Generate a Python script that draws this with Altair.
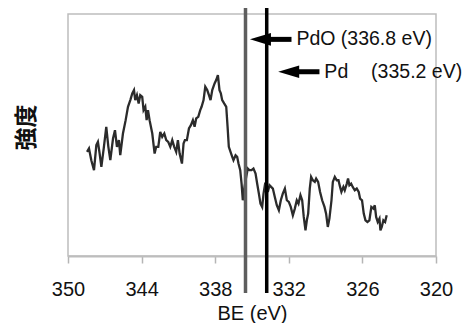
import altair as alt
import pandas as pd

# XPS Pd 3d spectrum (binding energy in eV, intensity in arbitrary units)
be = [
    348.45, 348.29, 348.10, 347.88, 347.69, 347.56, 347.42, 347.28, 347.09, 346.88,
    346.71, 346.55, 346.33, 346.17, 346.01, 345.85, 345.74, 345.52, 345.30, 345.11,
    344.92, 344.76, 344.62, 344.52, 344.38, 344.24, 344.11, 343.95, 343.84, 343.70,
    343.59, 343.48, 343.35, 343.13, 342.94, 342.81, 342.64, 342.48, 342.32, 342.15,
    341.99, 341.83, 341.66, 341.50, 341.34, 341.18, 341.04, 340.90, 340.71, 340.58,
    340.47, 340.31, 340.14, 339.98, 339.82, 339.68, 339.55, 339.38, 339.22, 339.11,
    338.95, 338.81, 338.65, 338.51, 338.38, 338.24, 338.05, 337.92, 337.78, 337.65,
    337.54, 337.43, 337.27, 337.10, 336.99, 336.89, 336.75, 336.61, 336.51, 336.34,
    336.21, 336.10, 335.96, 335.85, 335.75, 335.61, 335.47, 335.34, 335.20, 335.04,
    334.88, 334.71, 334.58, 334.44, 334.31, 334.17, 334.06, 333.93, 333.84, 333.71,
    333.57, 333.44, 333.30, 333.14, 332.98, 332.81, 332.65, 332.49, 332.32, 332.16,
    332.00, 331.84, 331.67, 331.51, 331.35, 331.21, 331.05, 330.91, 330.78, 330.64,
    330.53, 330.42, 330.29, 330.18, 330.04, 329.88, 329.77, 329.61, 329.45, 329.28,
    329.09, 328.96, 328.82, 328.69, 328.52, 328.41, 328.25, 328.09, 327.95, 327.82,
    327.71, 327.55, 327.44, 327.27, 327.17, 327.06, 326.92, 326.79, 326.62, 326.46,
    326.30, 326.19, 326.03, 325.89, 325.75, 325.59, 325.43, 325.27, 325.10, 324.99,
    324.88, 324.75, 324.61, 324.53, 324.42, 324.29, 324.15, 324.02,
]
intensity = [
    312, 322, 287, 257, 332, 342, 307, 267, 322, 387,
    327, 287, 352, 377, 327, 347, 302, 367, 407, 447,
    467, 487, 497, 467, 482, 457, 482, 477, 437, 447,
    407, 437, 407, 367, 307, 327, 327, 372, 357, 367,
    347, 342, 327, 347, 327, 312, 347, 307, 277, 337,
    347, 347, 382, 392, 407, 387, 412, 417, 437, 447,
    467, 507, 497, 482, 467, 497, 517, 527, 542, 497,
    487, 467, 457, 447, 387, 327, 312, 297, 287, 302,
    297, 277, 257, 217, 167, 207, 237, 262, 257, 257,
    262, 247, 217, 187, 157, 147, 187, 217, 222, 192,
    212, 207, 202, 177, 152, 137, 167, 187, 202, 167,
    162, 147, 122, 142, 167, 157, 182, 167, 117, 77,
    107, 127, 202, 237, 227, 222, 232, 222, 192, 167,
    147, 127, 87, 112, 167, 222, 237, 227, 227, 207,
    192, 207, 197, 217, 232, 212, 217, 207, 197, 202,
    192, 172, 167, 127, 107, 102, 107, 147, 142, 152,
    117, 102, 112, 77, 87, 107, 102, 122,
]

x_ticks = [350, 344, 338, 332, 326, 320]

# reference lines (as drawn)
ref_be = [335.53, 333.80]
ref_color = ["#5e5e5e", "#000000"]

# annotations
ann_y = [649, 552]
head_center = [334.31, 332.01]
shaft_start = [333.60, 331.30]
shaft_end = [331.78, 329.50]
label_x = [331.38, 329.10, 325.29]
label_y = [649, 552, 552]
label_text = ["PdO (336.8 eV)", "Pd", "(335.2 eV)"]

spec_df = pd.DataFrame({"x": be, "y": intensity})
ref_df = pd.DataFrame({"x": ref_be, "c": ref_color})
head_df = pd.DataFrame({"x": head_center, "y": ann_y})
shaft_df = pd.DataFrame({"x": shaft_start, "x_end": shaft_end, "y": ann_y})
label_df = pd.DataFrame({"x": label_x, "y": label_y, "t": label_text})

FONT = "Liberation Sans"

xscale = alt.Scale(domain=[320, 350], reverse=True, nice=False, zero=False)
yscale = alt.Scale(domain=[0, 725], nice=False, zero=False)

xaxis = alt.Axis(
    values=x_ticks, format="d", grid=False, title="BE (eV)",
    labelFont=FONT, labelFontSize=20, labelColor="#111111",
    labelBaseline="alphabetic", labelPadding=32, labelFlush=False,
    tickColor="#b5b5b5", tickSize=7, tickWidth=1.5,
    domainColor="#bdbdbd", domainWidth=2,
    titleFont=FONT, titleFontSize=20, titleFontWeight="normal",
    titleColor="#111111", titleBaseline="alphabetic", titleY=63,
)
yaxis = alt.Axis(
    title="強度", labels=False, ticks=False, domain=False, grid=False,
    titleFont="Noto Sans CJK JP", titleFontSize=23, titleFontWeight="bold",
    titleColor="#111111", titleAngle=270, titleX=-42, titleY=113,
    titleAlign="center", titleBaseline="middle",
)


def X(field="x"):
    return alt.X(f"{field}:Q", scale=xscale, axis=xaxis)


def Y():
    return alt.Y("y:Q", scale=yscale, axis=yaxis)


line = alt.Chart(spec_df).mark_line(color="#2b2b2b", strokeWidth=2.3).encode(
    x=X(), y=Y(), order="x:Q"
)

refs = alt.Chart(ref_df).mark_rule(strokeWidth=3.5).encode(
    x=X(),
    y=alt.value(-6),
    y2=alt.value(279),
    color=alt.Color("c:N", scale=None),
)

shafts = alt.Chart(shaft_df).mark_rule(color="#000000", strokeWidth=5).encode(
    x=X(), x2="x_end:Q", y=Y()
)

heads = alt.Chart(head_df).mark_point(
    shape="M-1,0L1,-0.6L1,0.6Z", size=441, filled=True, color="#000000", opacity=1
).encode(x=X(), y=Y())

labels = alt.Chart(label_df).mark_text(
    align="left", baseline="middle", font=FONT, fontSize=19.5, color="#111111"
).encode(x=X(), y=Y(), text="t:N")

chart = (
    alt.layer(line, refs, shafts, heads, labels)
    .properties(
        width=368,
        height=242,
        autosize=alt.AutoSizeParams(type="none"),
        padding={"left": 60, "top": 6, "right": 29, "bottom": 67},
        background="white",
    )
    .configure_view(stroke="#bdbdbd", strokeWidth=1.5)
)

chart.save("out.html", embed_options={"renderer": "svg", "actions": False})
